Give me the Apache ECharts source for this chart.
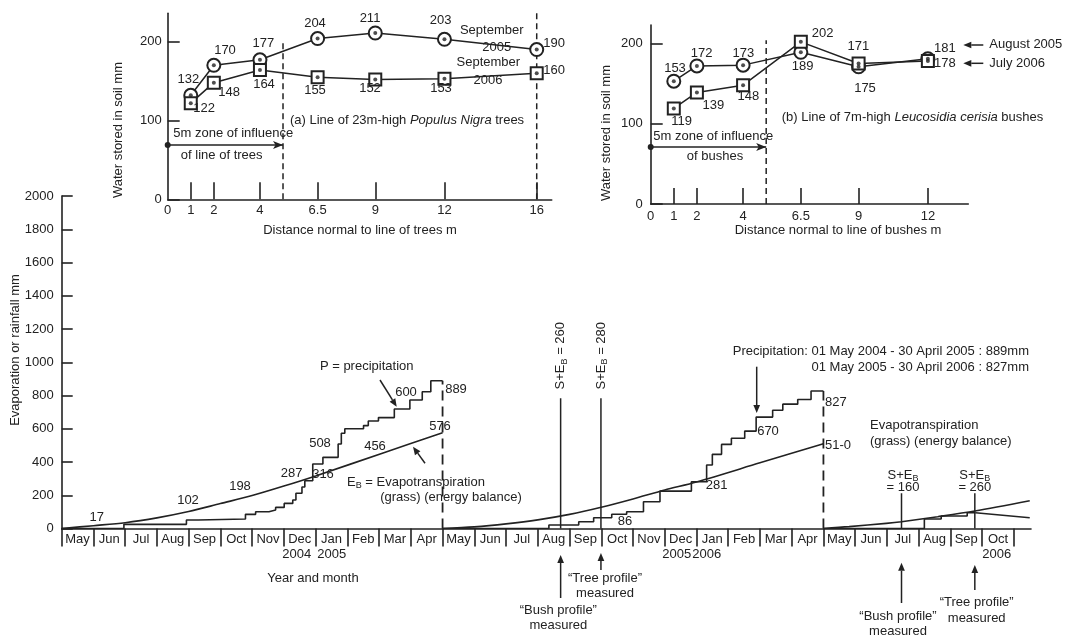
<!DOCTYPE html>
<html>
<head>
<meta charset="utf-8">
<script src="https://cdn.jsdelivr.net/npm/echarts@6/dist/echarts.min.js"></script>
<style>
html,body{margin:0;padding:0;background:#fff}
#chart{width:1065px;height:636px}
</style>
</head>
<body>
<div id="chart"></div>
<script>
// ---------- main time series: months counted from 1 May 2004 ----------
const months = ['May','Jun','Jul','Aug','Sep','Oct','Nov','Dec','Jan','Feb','Mar','Apr',
  'May','Jun','Jul','Aug','Sep','Oct','Nov','Dec','Jan','Feb','Mar','Apr',
  'May','Jun','Jul','Aug','Sep','Oct'];

// cumulative precipitation, mm (value reached at each step)
const precip2004 = [[0,0],[1.96,25],[3.93,51],[4.30,57],[5.79,85],[6.11,101],[6.53,111],[6.74,127],
  [7.01,151],[7.28,171],[7.38,212],[7.57,250],[7.66,287],[7.91,388],[8.23,428],[8.71,508],[8.81,573],
  [8.92,600],[9.51,619],[9.66,647],[9.98,667],[10.48,719],[10.97,773],[11.36,823],[11.63,889],[12,889]];
const precip2005 = [[12,0],[15.35,21],[16.29,41],[16.76,65],[17.33,86],[17.80,101],[18.33,161],
  [18.85,225],[19.84,281],[20.32,382],[20.50,446],[20.79,506],[21.10,543],[21.52,586],[21.88,670],
  [22.40,711],[22.72,748],[23.19,776],[23.61,827],[24,827]];
const precip2006 = [[24,0],[27.18,57],[27.71,75],[28.53,95],[28.79,95]];
const precip2006Tail = [[28.79,95],[30.5,65]];

// cumulative grass evapotranspiration (energy balance), mm
const evap2004 = [[0,0],[1,17],[2,35],[3,64],[4,102],[5,150],[6,198],[7,255],[8,316],[10.15,456],[12,576]];
const evap2005 = [[12,0],[13,10],[14,28],[15,52],[16,85],[17,128],[18,178],[19,232],[20,280],[22,395],[24,510]];
const evap2006 = [[24,0],[24.81,11],[25.98,31],[26.46,41],[27.6,71],[28.77,105],[30.5,167]];

// annual totals closing each hydrological year
const yearEndMonths = [12, 24];
const yearEndTotals = [889, 827];

// soil moisture profile dates (bush, tree, bush, tree) and drawn height of their markers
const profileMonths = [15.72, 16.99, 26.46, 28.77];
const profileTops = [783, 783, 212, 212];

// ---------- inset (a): line of poplars ----------
const distTrees = [1, 2, 4, 6.5, 9, 12, 16];
const sep2005 = [132, 170, 177, 204, 211, 203, 190];
const sep2006 = [122, 148, 164, 155, 152, 153, 160];
const treeLabels = [0, 1, 2, 4, 6.5, 9, 12, 16];

// ---------- inset (b): line of bushes ----------
const distBushes = [1, 2, 4, 6.5, 9, 12];
const aug2005 = [153, 172, 173, 189, 171, 181];
const jul2006 = [119, 139, 148, 202, 175, 178];
const bushLabels = [0, 1, 2, 4, 6.5, 9, 12];

const zoneWidth = 5;           // m, zone of influence
const soilTicks = [0, 100, 200];

// ---------- styling ----------
const INK = '#222';
const FONT = '"Liberation Sans", Arial, sans-serif';
const zip = (xs, ys) => xs.map((x, i) => [x, ys[i]]);
const plain = v => String(v);

const chart = echarts.init(document.getElementById('chart'), null, {renderer: 'canvas'});

// main plot geometry
const mainLeft = 61.7, mainRight = 1031, xMax = 30.54;
const mainWidth = mainRight - mainLeft;
const catRight = mainLeft + mainWidth * months.length / xMax;

function lineSeries(data, extra) {
  return Object.assign({
    type: 'line', xAxisIndex: 0, yAxisIndex: 0, data, symbol: 'none',
    lineStyle: {color: INK, width: 1.6}, silent: true, z: 3
  }, extra || {});
}

const series = [
  lineSeries(precip2004, {step: 'end'}),
  lineSeries(precip2005, {step: 'end'}),
  lineSeries(precip2006, {step: 'end'}),
  lineSeries(precip2006Tail),
  lineSeries(evap2004, {smooth: 0.3}),
  lineSeries(evap2005, {smooth: 0.3}),
  lineSeries(evap2006, {smooth: 0.3}),
];
yearEndMonths.forEach((m, i) => series.push(lineSeries([[m, 0], [m, yearEndTotals[i]]],
  {lineStyle: {color: INK, width: 1.8, type: [10, 6]}})));
profileMonths.forEach((m, i) => series.push(lineSeries([[m, 0], [m, profileTops[i]]],
  {lineStyle: {color: INK, width: 1.5}})));

// inset series helpers
function soilLine(xAxisIndex, xs, ys, symbol, size) {
  return [{
    type: 'line', xAxisIndex, yAxisIndex: xAxisIndex, data: zip(xs, ys), silent: true,
    symbol, symbolSize: size, lineStyle: {color: INK, width: 1.5},
    itemStyle: {color: INK, borderColor: INK, borderWidth: 1.6}, z: 4
  }, {
    type: 'scatter', xAxisIndex, yAxisIndex: xAxisIndex, data: zip(xs, ys), silent: true,
    symbol: 'circle', symbolSize: 4, itemStyle: {color: INK}, z: 5
  }];
}
function zoneSeries(axisIndex, edgeTop, arrowLevel, extraEdge) {
  const out = [{
    type: 'line', xAxisIndex: axisIndex, yAxisIndex: axisIndex, silent: true, symbol: 'none',
    data: [[zoneWidth, 0], [zoneWidth, edgeTop]],
    lineStyle: {color: INK, width: 1.5, type: [6, 4]},
    markLine: {
      silent: true, animation: false, symbol: ['circle', 'arrow'], symbolSize: [6, 10],
      label: {show: false}, lineStyle: {color: INK, width: 1.5, type: 'solid'},
      data: [[{coord: [0, arrowLevel]}, {coord: [zoneWidth, arrowLevel]}]]
    }
  }];
  if (extraEdge) out.push({
    type: 'line', xAxisIndex: axisIndex, yAxisIndex: axisIndex, silent: true, symbol: 'none',
    data: [[extraEdge[0], 0], [extraEdge[0], extraEdge[1]]],
    lineStyle: {color: INK, width: 1.5, type: [6, 4]}
  });
  return out;
}

series.push(...soilLine(2, distTrees, sep2005, 'emptyCircle', 13));
series.push(...soilLine(2, distTrees, sep2006, 'emptyRect', 12));
series.push(...zoneSeries(2, 202, 69, [16, 236]));
series.push(...soilLine(3, distBushes, aug2005, 'emptyCircle', 13));
series.push(...soilLine(3, distBushes, jul2006, 'emptyRect', 12));
series.push(...zoneSeries(3, 204, 71));

const axisLine = {show: true, lineStyle: {color: INK, width: 1.6}};
const lbl = {color: INK, fontSize: 13, fontFamily: FONT, formatter: plain};

chart.setOption({
  animation: false,
  backgroundColor: '#fff',
  grid: [
    {left: mainLeft, width: mainWidth, top: 196, bottom: 107.5},
    {left: mainLeft, width: catRight - mainLeft, top: 520, bottom: 107.5},
    {left: 167.7, width: 551.7 - 167.7, top: 13.3, bottom: 636 - 199.3},
    {left: 650.7, width: 968.3 - 650.7, top: 25, bottom: 636 - 204}
  ],
  xAxis: [
    {type: 'value', gridIndex: 0, min: 0, max: xMax, axisLine,
     axisTick: {show: false}, axisLabel: {show: false}, splitLine: {show: false}},
    {type: 'category', gridIndex: 1, data: months, boundaryGap: true,
     axisLine: {show: false},
     axisTick: {show: true, length: 18, interval: 0, lineStyle: {color: INK, width: 1.6}},
     axisLabel: Object.assign({}, lbl, {interval: 0, margin: 4, formatter: null})},
    {type: 'value', gridIndex: 2, min: 0, max: 16.65, axisLine,
     axisTick: {show: true, inside: true, length: 17, customValues: distTrees, lineStyle: {color: INK, width: 1.6}},
     axisLabel: Object.assign({margin: 5, customValues: treeLabels}, lbl), splitLine: {show: false}},
    {type: 'value', gridIndex: 3, min: 0, max: 13.75, axisLine,
     axisTick: {show: true, inside: true, length: 16, customValues: distBushes, lineStyle: {color: INK, width: 1.6}},
     axisLabel: Object.assign({margin: 6, customValues: bushLabels}, lbl), splitLine: {show: false}}
  ],
  yAxis: [
    {type: 'value', gridIndex: 0, min: 0, max: 2000, interval: 200, axisLine,
     axisTick: {show: true, inside: true, length: 11, lineStyle: {color: INK, width: 1.6}},
     axisLabel: Object.assign({margin: 8}, lbl), splitLine: {show: false}},
    {type: 'value', gridIndex: 1, show: false},
    {type: 'value', gridIndex: 2, min: 0, max: 236, axisLine,
     axisTick: {show: true, inside: true, length: 12, customValues: soilTicks, lineStyle: {color: INK, width: 1.6}},
     axisLabel: Object.assign({margin: 6, customValues: soilTicks}, lbl), splitLine: {show: false}},
    {type: 'value', gridIndex: 3, min: 0, max: 223, axisLine,
     axisTick: {show: true, inside: true, length: 12, customValues: soilTicks, lineStyle: {color: INK, width: 1.6}},
     axisLabel: Object.assign({margin: 8, customValues: soilTicks}, lbl), splitLine: {show: false}}
  ],
  series
});

// ---------- annotations ----------
const subRich = {
  n: {fontSize: 13, fontFamily: FONT, color: INK, lineHeight: 17},
  s: {fontSize: 9, fontFamily: FONT, color: INK, lineHeight: 9, verticalAlign: 'bottom'},
  i: {fontSize: 13, fontFamily: FONT, color: INK, fontStyle: 'italic', lineHeight: 17}
};
function txt(text, x, y, o) {
  o = o || {};
  const align = o.align || 'center';
  const style = {
    text, fill: INK, font: (o.size || 13) + 'px ' + FONT,
    align, verticalAlign: 'middle', textAlign: align, textVerticalAlign: 'middle'
  };
  if (o.rich) style.rich = subRich;
  return {type: 'text', x, y, rotation: o.rot || 0, z: 50, silent: true, style};
}
function arrow(x1, y1, x2, y2, head) {
  head = head || 8;
  const a = Math.atan2(y2 - y1, x2 - x1);
  const bx = x2 - head * Math.cos(a), by = y2 - head * Math.sin(a);
  const w = head * 0.42, px = -Math.sin(a) * w, py = Math.cos(a) * w;
  return [
    {type: 'line', z: 50, silent: true, shape: {x1, y1, x2: bx, y2: by}, style: {stroke: INK, lineWidth: 1.5}},
    {type: 'polygon', z: 50, silent: true, shape: {points: [[x2, y2], [bx + px, by + py], [bx - px, by - py]]}, style: {fill: INK}}
  ];
}
const px = m => chart.convertToPixel({xAxisIndex: 0}, m);

const g = [];
// axis titles
g.push(txt('Evaporation or rainfall mm', 15, 350, {rot: Math.PI / 2}));
g.push(txt('Year and month', 313, 578));
g.push(txt('Water stored in soil mm', 118, 130, {rot: Math.PI / 2}));
g.push(txt('Distance normal to line of trees m', 360, 230));
g.push(txt('Water stored in soil mm', 606, 133, {rot: Math.PI / 2}));
g.push(txt('Distance normal to line of bushes m', 838, 230));

// year captions under the month strip
[['2004', 296.7], ['2005', 331.7], ['2005', 676.7], ['2006', 706.7], ['2006', 996.7]]
  .forEach(([t, x]) => g.push(txt(t, x, 554)));

// values written along the main curves
[['17', 96.7, 517.7], ['102', 188, 500.7], ['198', 240, 486], ['287', 291.7, 473], ['316', 323, 474],
 ['508', 320, 443], ['456', 375, 446], ['576', 440, 426.7], ['600', 406, 392], ['889', 456, 389],
 ['86', 625, 521.7], ['281', 716.7, 485], ['670', 768, 431]]
  .forEach(([t, x, y]) => g.push(txt(t, x, y)));
g.push(txt('827', 825, 402.3, {align: 'left'}));
g.push(txt('51-0', 825, 445.7, {align: 'left'}));

g.push(txt('P = precipitation', 366.7, 366));
g.push(...arrow(380, 380, 396.7, 406.7));
g.push(txt('{n|E}{s|B}{n| = Evapotranspiration}', 347, 482, {align: 'left', rich: true}));
g.push(txt('(grass) (energy balance)', 451, 497));
g.push(...arrow(425, 463.3, 413, 446.7));

g.push(txt('Precipitation: 01 May 2004 - 30 April 2005 : 889mm', 1029, 351.7, {align: 'right'}));
g.push(txt('01 May 2005 - 30 April 2006 : 827mm', 1029, 367.3, {align: 'right'}));
g.push(...arrow(756.7, 366.7, 756.7, 413));
g.push(txt('Evapotranspiration', 870, 425, {align: 'left'}));
g.push(txt('(grass) (energy balance)', 870, 441, {align: 'left'}));

// profile measurement markers
const p = profileMonths.map(px);
g.push(txt('{n|S+E}{s|B}{n| = 260}', p[0], 355.7, {rot: Math.PI / 2, rich: true}));
g.push(txt('{n|S+E}{s|B}{n| = 280}', p[1], 355.7, {rot: Math.PI / 2, rich: true}));
g.push(txt('{n|S+E}{s|B}', p[2] + 1.5, 475, {rich: true}));
g.push(txt('= 160', p[2] + 1.5, 487));
g.push(txt('{n|S+E}{s|B}', p[3], 475, {rich: true}));
g.push(txt('= 260', p[3], 487));
g.push(...arrow(p[0], 598, p[0], 555));
g.push(...arrow(p[1], 570, p[1], 553));
g.push(...arrow(p[2], 603, p[2], 562.7));
g.push(...arrow(p[3], 590, p[3], 565));
g.push(txt('\u201CBush profile\u201D', 558.3, 610));
g.push(txt('measured', 558.3, 625));
g.push(txt('\u201CTree profile\u201D', 605, 578));
g.push(txt('measured', 605, 593));
g.push(txt('\u201CBush profile\u201D', 898, 616));
g.push(txt('measured', 898, 631));
g.push(txt('\u201CTree profile\u201D', 976.7, 602.7));
g.push(txt('measured', 976.7, 618.3));

// inset (a) annotations
[['132', 188.3, 79.3], ['170', 225, 50], ['177', 263.3, 43.3], ['204', 315, 23.3], ['211', 370, 18.3],
 ['203', 440.7, 20], ['164', 264, 84], ['155', 315, 90.7], ['152', 370, 88], ['153', 441, 88.3]]
  .forEach(([t, x, y]) => g.push(txt(t, x, y)));
[['190', 543.3, 43], ['160', 543.3, 70], ['122', 193.3, 108.3], ['148', 218.3, 92]]
  .forEach(([t, x, y]) => g.push(txt(t, x, y, {align: 'left'})));
g.push(txt('September', 491.7, 30));
g.push(txt('2005', 496.7, 47.3));
g.push(txt('September', 488.3, 62));
g.push(txt('2006', 488, 80));
g.push(txt('(a) Line of 23m-high {i|Populus Nigra}{n| trees}', 290, 120, {align: 'left', rich: true}));
g.push(txt('5m zone of influence', 173.3, 133.3, {align: 'left'}));
g.push(txt('of line of trees', 221.7, 155));

// inset (b) annotations
[['153', 675, 68.3], ['172', 701.7, 53.3], ['173', 743.3, 53.3], ['189', 802.7, 66.7], ['171', 858.3, 46.7],
 ['175', 865, 88.3], ['119', 681.7, 121.7], ['139', 713.3, 105], ['148', 748.3, 96.7]]
  .forEach(([t, x, y]) => g.push(txt(t, x, y)));
[['202', 811.7, 33.3], ['181', 934, 48.3], ['178', 934, 63.3]]
  .forEach(([t, x, y]) => g.push(txt(t, x, y, {align: 'left'})));
g.push(...arrow(983.3, 45, 963.3, 45));
g.push(...arrow(983.3, 63.3, 963.3, 63.3));
g.push(txt('August 2005', 989.3, 44.3, {align: 'left'}));
g.push(txt('July 2006', 989.3, 63.3, {align: 'left'}));
g.push(txt('(b) Line of 7m-high {i|Leucosidia cerisia}{n| bushes}', 781.7, 117.3, {align: 'left', rich: true}));
g.push(txt('5m zone of influence', 653.3, 136.7, {align: 'left'}));
g.push(txt('of bushes', 715, 156.7));

chart.setOption({graphic: {elements: g}});
</script>
</body>
</html>
